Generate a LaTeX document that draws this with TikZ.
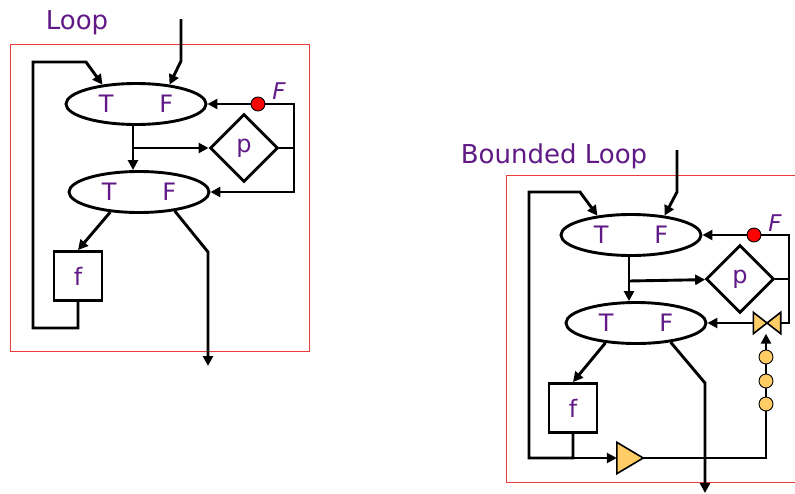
\documentclass[tikz,border=0pt]{standalone}
\usepackage{fontspec}
\setmainfont{DejaVu Sans}
\usetikzlibrary{positioning,arrows.meta,shapes.geometric}
\definecolor{loopviolet}{RGB}{96,25,134}
\definecolor{framered}{RGB}{235,60,60}
\definecolor{tokenorange}{RGB}{255,204,102}

\begin{document}
\begin{tikzpicture}[x=1pt, y=-1pt, >={Triangle[length=10pt,width=10pt]},
  flow/.style={line width=2.9pt},
  arr/.style={flow, ->},
  cond/.style={draw, ellipse, line width=2.9pt, inner sep=0pt,
               minimum width=140pt, minimum height=41pt,
               font=\fontsize{24}{24}\selectfont, text=loopviolet},
  test/.style={draw, diamond, line width=2.9pt, minimum width=68pt, minimum height=68pt,
               font=\fontsize{24}{24}\selectfont, text=loopviolet},
  body/.style={draw, rectangle, line width=2.9pt, minimum width=48pt, minimum height=49pt,
               font=\fontsize{24}{24}\selectfont, text=loopviolet},
  title/.style={anchor=base, font=\fontsize{26}{26}\selectfont, text=loopviolet},
  fmark/.style={anchor=base, font=\fontsize{23}{23}\selectfont\itshape, text=loopviolet},
  dot/.style={circle, draw, line width=0.9pt, fill=red, minimum size=14pt, inner sep=0pt},
  token/.style={circle, draw, line width=0.9pt, fill=tokenorange, minimum size=14pt, inner sep=0pt},
  valve/.style={rectangle, inner sep=0pt, minimum width=27pt, minimum height=21pt},
  amp/.style={rectangle, inner sep=0pt, minimum width=26pt, minimum height=31pt},
  partfill/.style={draw, line width=1.6pt, fill=tokenorange, line join=miter},
  frame/.style={draw=framered, line width=0.9pt}]
  \useasboundingbox (0,0) rectangle (795,493);

  % Loop
  \node[title] (looptitle) at (77,29) {Loop};
  \draw[frame] (10,44) rectangle (309,351);
  \node[cond] (a1) at (136,104) {T\hspace{46pt}F};
  \node[cond] (a2) at (139,192) {T\hspace{46pt}F};
  \node[test] (ap) at (244,148) {p};
  \node[body] (af) at (78,276) {f};
  \node[dot] (ad) at (258,104) {};
  \node[fmark] (adf) at (279,99) {F};
  \coordinate (ain) at (181,19);
  \coordinate (ainb) at (181,61);
  \coordinate (asplit) at (133,148);
  \coordinate (abus1) at (294,104);
  \coordinate (abus2) at (294,192);
  \coordinate (aret1) at (33,328);
  \coordinate (aret2) at (33,62);
  \coordinate (aret3) at (86,62);
  \coordinate (aout1) at (208,252);
  \coordinate (aout2) at (208,366);

  \draw[arr] (ain) -- (ainb) -- (a1.30);
  \draw[arr] (asplit |- a1.south) -- (asplit |- a2.north);
  \draw[arr] (asplit) -- (ap);
  \draw[flow] (ap) -- (ap.east -| abus1);
  \draw[arr] (ad) -- (a1);
  \draw[arr] (ad) -- (abus1) -- (abus2) -- (a2);
  \draw[arr] (a2.215) -- (af.north);
  \draw[arr] (af.south) |- (aret1) -- (aret2) -- (aret3) -- (a1.150);
  \draw[arr] (a2.-28) -- (aout1) -- (aout2);

  % Bounded Loop
  \node[title] (btitle) at (554,163) {Bounded Loop};
  \draw[frame] (506,175) rectangle (800,482);
  \node[cond] (b1) at (631,235) {T\hspace{46pt}F};
  \node[cond] (b2) at (636,323) {T\hspace{46pt}F};
  \node[test] (bp) at (740,279) {p};
  \node[body] (bf) at (573,408) {f};
  \node[dot] (bd) at (754,235) {};
  \node[fmark] (bdf) at (775,231) {F};
  \node[valve] (bv) at (767,323) {};
  \node[token] (bt1) at (766,357) {};
  \node[token] (bt2) at (766,381) {};
  \node[token] (bt3) at (766,404) {};
  \node[amp] (bamp) at (630,458) {};
  \coordinate (bin) at (677,150);
  \coordinate (binb) at (677,192);
  \coordinate (bsplit) at (629,281);
  \coordinate (bbus1) at (789,235);
  \coordinate (bbus2) at (789,323);
  \coordinate (bret1) at (529,458);
  \coordinate (bret2) at (529,192);
  \coordinate (bret3) at (580,192);
  \coordinate (bcnt) at (766,458);
  \coordinate (bout1) at (705,383);
  \coordinate (bout2) at (705,493);

  \draw[arr] (bin) -- (binb) -- (b1.30);
  \draw[arr] (bsplit |- b1.south) -- (bsplit |- b2.north);
  \draw[arr] (bsplit) -- (bp);
  \draw[flow] (bp) -- (bp.east -| bbus1);
  \draw[arr] (bd) -- (b1);
  \draw[flow] (bd) -- (bbus1) -- (bbus2) -- (bv.east);
  \draw[arr] (bv.west) -- (b2);
  \draw[arr] (b2.213) -- (bf.north);
  \draw[arr] (bf.south) |- (bret1) -- (bret2) -- (bret3) -- (b1.150);
  \draw[arr] (bf.south |- bret1) -- (bamp.west);
  \draw[arr] (bamp.east) -- (bcnt) -- (bt3) -- (bt2) -- (bt1) -- (bv.south -| bt1);
  \draw[arr] (b2.-29) -- (bout1) -- (bout2);
  \filldraw[partfill] (bv.north west) -- (bv.south east) -- (bv.north east) -- (bv.south west) -- cycle;
  \filldraw[partfill] (bamp.north west) -- (bamp.east) -- (bamp.south west) -- cycle;
\end{tikzpicture}
\end{document}
